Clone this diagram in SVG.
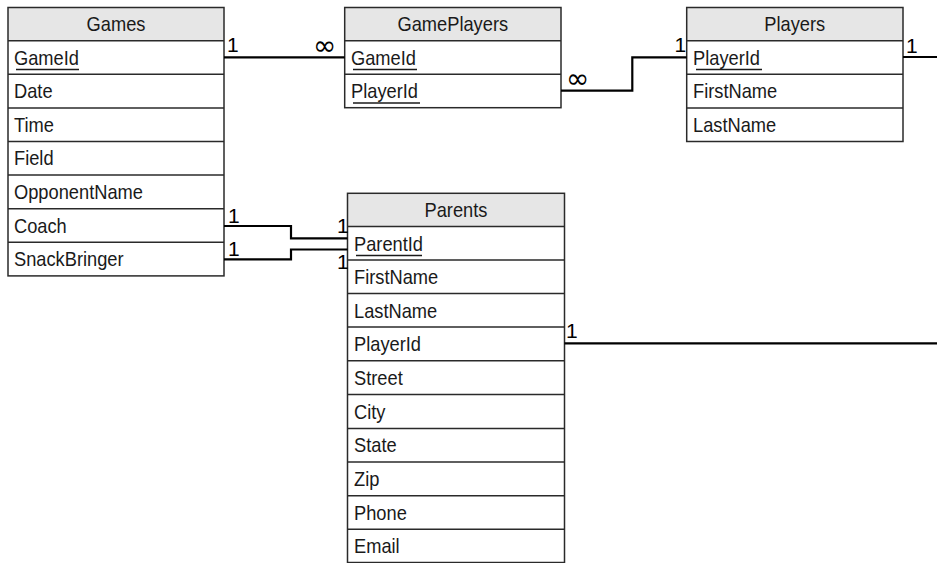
<svg xmlns="http://www.w3.org/2000/svg" width="937" height="563" viewBox="0 0 937 563">
<style>
.hdr{fill:#e6e6e6;stroke:none}
.box{fill:none;stroke:#2a2a2a;stroke-width:1.5}
.sep{stroke:#2a2a2a;stroke-width:1.5}
text{font-family:"Liberation Sans",Arial,sans-serif;font-size:21px;fill:#1a1a1a}
.t{text-anchor:middle}
.ul{stroke:#1a1a1a;stroke-width:1.5}
.con{fill:none;stroke:#000;stroke-width:2.2}
.lbl{font-size:21px;fill:#000}
.inf{font-family:"DejaVu Sans",sans-serif;font-size:28px;fill:#000}
</style>
<rect x="0" y="0" width="937" height="563" fill="#fff"/>

<g id="games">
<rect class="hdr" x="8" y="7.5" width="216" height="33.2"/>
<rect class="box" x="8" y="7.5" width="216" height="268.4"/>
<line class="sep" x1="8" y1="40.7" x2="224" y2="40.7"/>
<line class="sep" x1="8" y1="74.3" x2="224" y2="74.3"/>
<line class="sep" x1="8" y1="107.9" x2="224" y2="107.9"/>
<line class="sep" x1="8" y1="141.5" x2="224" y2="141.5"/>
<line class="sep" x1="8" y1="175.1" x2="224" y2="175.1"/>
<line class="sep" x1="8" y1="208.7" x2="224" y2="208.7"/>
<line class="sep" x1="8" y1="242.3" x2="224" y2="242.3"/>
<line class="ul" x1="16" y1="69.5" x2="79" y2="69.5"/>
<g transform="scale(0.87,1)">
<text class="t" x="133.333" y="31">Games</text>
<text x="16.092" y="65">GameId</text>
<text x="16.092" y="98.5">Date</text>
<text x="16.092" y="132">Time</text>
<text x="16.092" y="165.5">Field</text>
<text x="16.092" y="199.5">OpponentName</text>
<text x="16.092" y="233">Coach</text>
<text x="16.092" y="266.5">SnackBringer</text>
</g>
</g>

<g id="gameplayers">
<rect class="hdr" x="344.7" y="7.5" width="216.3" height="33.2"/>
<rect class="box" x="344.7" y="7.5" width="216.3" height="100.2"/>
<line class="sep" x1="344.7" y1="40.7" x2="561" y2="40.7"/>
<line class="sep" x1="344.7" y1="74.2" x2="561" y2="74.2"/>
<line class="ul" x1="353" y1="69.5" x2="417" y2="69.5"/>
<line class="ul" x1="353" y1="103" x2="420" y2="103"/>
<g transform="scale(0.87,1)">
<text class="t" x="520.46" y="31">GamePlayers</text>
<text x="403.448" y="65">GameId</text>
<text x="403.448" y="98.5">PlayerId</text>
</g>
</g>

<g id="players">
<rect class="hdr" x="686.7" y="7.5" width="216.3" height="33.2"/>
<rect class="box" x="686.7" y="7.5" width="216.3" height="134"/>
<line class="sep" x1="686.7" y1="40.7" x2="903" y2="40.7"/>
<line class="sep" x1="686.7" y1="74.3" x2="903" y2="74.3"/>
<line class="sep" x1="686.7" y1="107.9" x2="903" y2="107.9"/>
<line class="ul" x1="696" y1="69.5" x2="762" y2="69.5"/>
<g transform="scale(0.87,1)">
<text class="t" x="913.563" y="31">Players</text>
<text x="796.552" y="65">PlayerId</text>
<text x="796.552" y="98.5">FirstName</text>
<text x="796.552" y="132">LastName</text>
</g>
</g>

<g id="parents">
<rect class="hdr" x="347.5" y="193.3" width="217" height="33.2"/>
<rect class="box" x="347.5" y="193.3" width="217" height="369.2"/>
<line class="sep" x1="347.5" y1="226.5" x2="564.5" y2="226.5"/>
<line class="sep" x1="347.5" y1="260.1" x2="564.5" y2="260.1"/>
<line class="sep" x1="347.5" y1="293.5" x2="564.5" y2="293.5"/>
<line class="sep" x1="347.5" y1="327.1" x2="564.5" y2="327.1"/>
<line class="sep" x1="347.5" y1="360.7" x2="564.5" y2="360.7"/>
<line class="sep" x1="347.5" y1="394.5" x2="564.5" y2="394.5"/>
<line class="sep" x1="347.5" y1="428.4" x2="564.5" y2="428.4"/>
<line class="sep" x1="347.5" y1="462" x2="564.5" y2="462"/>
<line class="sep" x1="347.5" y1="495.7" x2="564.5" y2="495.7"/>
<line class="sep" x1="347.5" y1="529.2" x2="564.5" y2="529.2"/>
<line class="ul" x1="356" y1="255.5" x2="422" y2="255.5"/>
<g transform="scale(0.87,1)">
<text class="t" x="524.138" y="217">Parents</text>
<text x="406.897" y="251">ParentId</text>
<text x="406.897" y="284.5">FirstName</text>
<text x="406.897" y="318">LastName</text>
<text x="406.897" y="351.5">PlayerId</text>
<text x="406.897" y="385">Street</text>
<text x="406.897" y="419">City</text>
<text x="406.897" y="452.5">State</text>
<text x="406.897" y="486">Zip</text>
<text x="406.897" y="520">Phone</text>
<text x="406.897" y="553.5">Email</text>
</g>
</g>

<g id="connectors">
<path class="con" d="M224,57.3 H344.7"/>
<path class="con" d="M561,90.7 H632.3 V57.3 H686.7"/>
<path class="con" d="M903,57 H937"/>
<path class="con" d="M564.5,343.3 H937"/>
<path class="con" d="M224,226 H291 V238.3 H347.5"/>
<path class="con" d="M224,259.3 H291 V249.5 H347.5"/>
<text class="lbl" x="227" y="52">1</text>
<text class="inf" x="313" y="55">∞</text>
<text class="inf" x="566" y="88">∞</text>
<text class="lbl" x="674.5" y="52">1</text>
<text class="lbl" x="906" y="52.5">1</text>
<text class="lbl" x="566" y="338">1</text>
<text class="lbl" x="228" y="222.5">1</text>
<text class="lbl" x="228" y="256">1</text>
<text class="lbl" x="337" y="233.3">1</text>
<text class="lbl" x="337" y="269.3">1</text>
</g>
</svg>
